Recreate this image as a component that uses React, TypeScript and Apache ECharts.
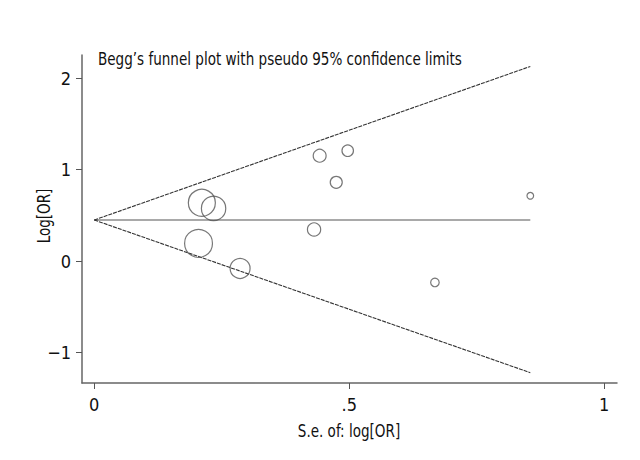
import React, { useEffect, useRef } from "react";
import * as echarts from "echarts";

// Study-level data
const seValues = [0.211, 0.234, 0.2045, 0.286, 0.442, 0.497, 0.4745, 0.431, 0.855, 0.668];
const logOrValues = [0.638, 0.577, 0.194, -0.08, 1.153, 1.208, 0.862, 0.347, 0.715, -0.233];

// Funnel (pseudo 95% limits) endpoints
const funnelSe = [0, 0.855];
const pooledLine = [0.45, 0.45];
const upperLimit = [0.45, 2.13];
const lowerLimit = [0.45, -1.22];

// Axis ticks
const xTicks = [0, 0.5, 1];
const xTickLabels = ["0", ".5", "1"];
const yTicks = [-1, 0, 1, 2];
const yTickLabels = ["\u22121", "0", "1", "2"];

const FONT = "'DejaVu Sans Condensed', 'Liberation Sans Narrow', sans-serif";

export default function App() {
  const ref = useRef<HTMLDivElement>(null);
  useEffect(() => {
    if (!ref.current) return;
    const chart = echarts.init(ref.current, null, { renderer: "svg" });
    const pts = seValues.map((s, i) => [s, logOrValues[i]]);
    const mk = (ys: number[]) => funnelSe.map((s, i) => [s, ys[i]]);
    chart.setOption({
      animation: false,
      backgroundColor: "#ffffff",
      textStyle: { fontFamily: FONT },
      grid: { left: 82, right: 23, top: 55, bottom: 77, containLabel: false },
      xAxis: {
        type: "value",
        min: -0.024,
        max: 1.025,
        splitLine: { show: false },
        axisLine: { onZero: false, lineStyle: { color: "#666", width: 1.5 } },
        axisTick: { show: true, length: 6, customValues: xTicks, lineStyle: { color: "#555" } },
        axisLabel: {
          customValues: xTicks,
          margin: 12,
          fontSize: 18,
          color: "#111",
          fontFamily: FONT,
          formatter: (v: number) => {
            const i = xTicks.findIndex((t) => Math.abs(t - v) < 1e-9);
            return i >= 0 ? xTickLabels[i] : "";
          },
        },
      },
      yAxis: {
        type: "value",
        min: -1.333,
        max: 2.255,
        splitLine: { show: false },
        axisLine: { show: true, onZero: false, lineStyle: { color: "#666", width: 1.5 } },
        axisTick: { show: true, length: 6, customValues: yTicks, lineStyle: { color: "#555" } },
        axisLabel: {
          customValues: yTicks,
          margin: 11,
          fontSize: 18,
          color: "#111",
          fontFamily: FONT,
          formatter: (v: number) => {
            const i = yTicks.findIndex((t) => Math.abs(t - v) < 1e-9);
            return i >= 0 ? yTickLabels[i] : "";
          },
        },
      },
      graphic: [
        {
          type: "text",
          x: 98,
          y: 59,
          scaleX: 0.885,
          style: {
            text: "Begg\u2019s funnel plot with pseudo 95% confidence limits",
            font: `17px ${FONT}`,
            fill: "#111",
            verticalAlign: "middle",
            align: "left",
          },
        },
        {
          type: "text",
          x: 44,
          y: 216,
          rotation: Math.PI / 2,
          scaleX: 0.885,
          style: {
            text: "Log[OR]",
            font: `17px ${FONT}`,
            fill: "#111",
            verticalAlign: "middle",
            align: "center",
          },
        },
        {
          type: "text",
          x: 349,
          y: 431,
          scaleX: 0.885,
          style: {
            text: "S.e. of: log[OR]",
            font: `17px ${FONT}`,
            fill: "#111",
            verticalAlign: "middle",
            align: "center",
          },
        },
      ],
      series: [
        {
          type: "line",
          data: mk(pooledLine),
          symbol: "none",
          lineStyle: { color: "#555", width: 1.2 },
          silent: true,
        },
        {
          type: "line",
          data: mk(upperLimit),
          symbol: "none",
          lineStyle: { color: "#333", width: 1.1, type: [4, 1] },
          silent: true,
        },
        {
          type: "line",
          data: mk(lowerLimit),
          symbol: "none",
          lineStyle: { color: "#333", width: 1.1, type: [4, 1] },
          silent: true,
        },
        {
          type: "scatter",
          data: pts,
          symbol: "circle",
          symbolSize: (v: number[]) => 5.7 / v[0],
          itemStyle: { color: "rgba(0,0,0,0)", borderColor: "#555", borderWidth: 1.2 },
          z: 5,
        },
      ],
    });
    return () => chart.dispose();
  }, []);
  return (
    <div
      ref={ref}
      style={{ position: "fixed", left: 0, top: 0, width: 640, height: 460 }}
    />
  );
}
